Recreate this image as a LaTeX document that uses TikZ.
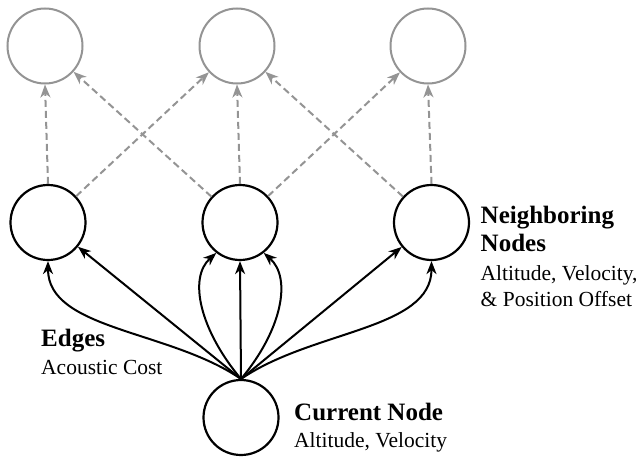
\documentclass[tikz,border=0pt]{standalone}
\usepackage{fontspec}
\setmainfont{Liberation Serif}
\usetikzlibrary{arrows.meta}
\begin{document}
\begin{tikzpicture}[x=1pt,y=-1pt,
  nodecirc/.style={circle,draw=black,line width=2.2pt,minimum size=75pt,inner sep=0pt},
  futcirc/.style={circle,draw=black!42,line width=2pt,minimum size=75pt,inner sep=0pt},
  edgearrow/.style={line width=2pt,-{Stealth[length=13pt,width=10pt,inset=4pt]}},
  futarrow/.style={black!42,line width=2pt,dash pattern=on 7pt off 4pt,-{Stealth[length=13pt,width=10pt,inset=4pt]}},
  boldlbl/.style={anchor=base west,inner sep=0pt,font=\fontsize{25}{29}\selectfont\bfseries},
  plainlbl/.style={anchor=base west,inner sep=0pt,font=\fontsize{21.5}{26}\selectfont}]
\useasboundingbox (0,0) rectangle (642,460);
% top row
\node[futcirc] (tl) at (45,46) {};
\node[futcirc] (tm) at (237,46) {};
\node[futcirc] (tr) at (428,46) {};
% middle row
\node[nodecirc] (lm) at (48,222.5) {};
\node[nodecirc] (mm) at (240,222.5) {};
\node[nodecirc] (rm) at (431.5,222.5) {};
% current
\node[nodecirc] (cs) at (241,417.5) {};
\coordinate (hub) at (241,379);
% dashed
\draw[futarrow] (lm.north) -- (tl.south);
\draw[futarrow] (lm) -- (tm);
\draw[futarrow] (mm) -- (tl);
\draw[futarrow] (mm.north) -- (tm.south);
\draw[futarrow] (mm) -- (tr);
\draw[futarrow] (rm) -- (tm);
\draw[futarrow] (rm.north) -- (tr.south);
% edges
\draw[edgearrow] (hub) .. controls (170,330) and (48,330) .. (lm.south);
\draw[edgearrow] (hub) -- (lm);
\draw[edgearrow] (hub) .. controls (200,330) and (188,278) .. (mm.-128);
\draw[edgearrow] (hub) -- (mm.south);
\draw[edgearrow] (hub) .. controls (282,330) and (292,278) .. (mm.-52);
\draw[edgearrow] (hub) -- (rm);
\draw[edgearrow] (hub) .. controls (312,330) and (431.5,330) .. (rm.south);
% labels
\node[boldlbl] (nb1) at (480.5,223) {Neighboring};
\node[boldlbl] (nb2) at (480.5,251.7) {Nodes};
\node[plainlbl] (nb3) at (480.5,280) {Altitude, Velocity,};
\node[plainlbl] (nb4) at (480.5,306.7) {\& Position Offset};
\node[boldlbl] (ed1) at (41,346.7) {Edges};
\node[plainlbl] (ed2) at (41,374) {Acoustic Cost};
\node[boldlbl] (cn1) at (294,420.7) {Current Node};
\node[plainlbl] (cn2) at (294,447) {Altitude, Velocity};
\end{tikzpicture}
\end{document}
